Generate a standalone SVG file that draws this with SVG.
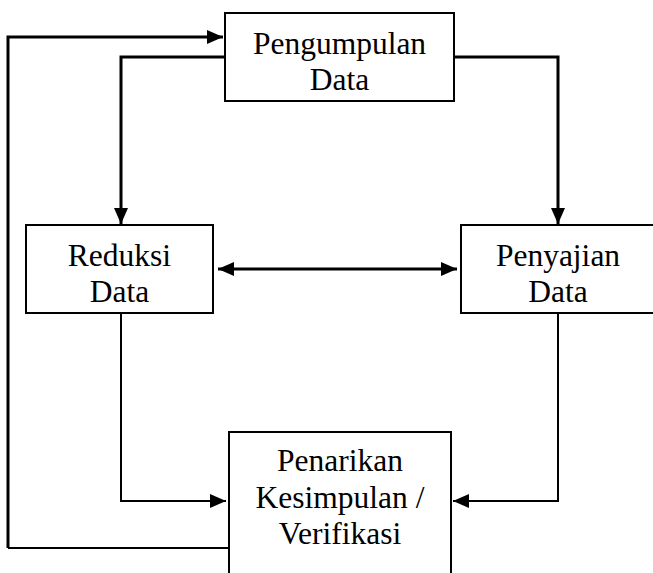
<svg xmlns="http://www.w3.org/2000/svg" width="653" height="573" viewBox="0 0 653 573">
<style>
.box{fill:#fff;stroke:#000;stroke-width:2}
.lbl{font-family:'Liberation Serif','Tinos','Times New Roman','DejaVu Serif','Noto Serif',serif;font-size:31.5px;fill:#000;text-anchor:middle}
.c{fill:none;stroke:#000;stroke-width:3;stroke-linejoin:miter}
.t{fill:none;stroke:#000;stroke-width:2}
</style>
<defs>
<marker id="ah" markerUnits="userSpaceOnUse" markerWidth="17" markerHeight="15" refX="16" refY="7" orient="auto-start-reverse" viewBox="0 0 17 15">
<path d="M0,0 L16,7 L0,14 Z" fill="#000"/>
</marker>
</defs>
<g id="connectors">
<polyline class="c" points="8,548 8,37 223,37" marker-end="url(#ah)"/>
<polyline class="t" points="8,548 229,548"/>
<polyline class="c" points="225,57 121,57 121,224" marker-end="url(#ah)"/>
<polyline class="c" points="454,57 558,57 558,224" marker-end="url(#ah)"/>
<line class="c" x1="218" y1="269" x2="457" y2="269" marker-start="url(#ah)" marker-end="url(#ah)"/>
<polyline class="t" points="121,313 121,501 226,501" marker-end="url(#ah)"/>
<polyline class="t" points="558,313 558,501 453,501" marker-end="url(#ah)"/>
</g>
<g id="pengumpulan">
<rect class="box" x="225" y="13" width="229" height="88"/>
<text class="lbl" x="339.5" y="54" font-family="Liberation Serif, serif">Pengumpulan</text>
<text class="lbl" x="339.5" y="90" font-family="Liberation Serif, serif">Data</text>
</g>
<g id="reduksi">
<rect class="box" x="26" y="225" width="187" height="88"/>
<text class="lbl" x="119.5" y="266">Reduksi</text>
<text class="lbl" x="119.5" y="302">Data</text>
</g>
<g id="penyajian">
<rect class="box" x="461" y="225" width="194" height="88"/>
<text class="lbl" x="558" y="266">Penyajian</text>
<text class="lbl" x="558" y="302">Data</text>
</g>
<g id="penarikan">
<rect class="box" x="229" y="432" width="222" height="150"/>
<text class="lbl" x="340" y="471">Penarikan</text>
<text class="lbl" x="340" y="508">Kesimpulan /</text>
<text class="lbl" x="340" y="544">Verifikasi</text>
</g>
</svg>
